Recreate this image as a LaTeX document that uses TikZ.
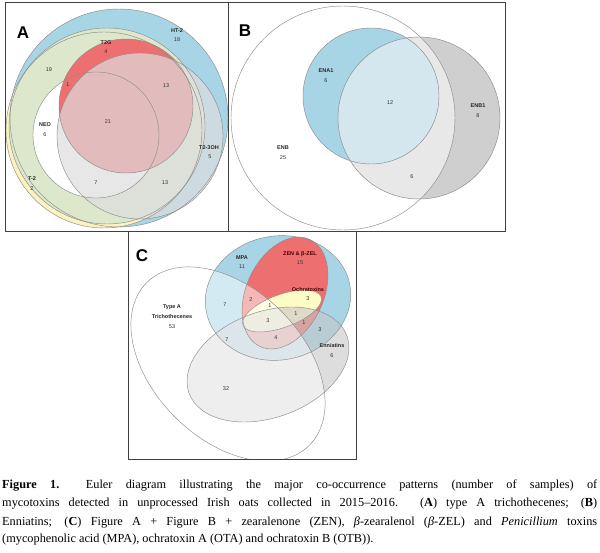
\documentclass[tikz,border=0pt]{standalone}
\usepackage{fontspec}
\setmainfont{Liberation Serif}
\newfontfamily\lsans{Liberation Sans}
\begin{document}
\begin{tikzpicture}[x=1pt,y=-1pt,
  lab/.style={font=\lsans\bfseries\fontsize{5.5}{6}\selectfont,text=black!85,inner sep=0pt},
  num/.style={font=\lsans\fontsize{5.5}{6}\selectfont,text=black!80,inner sep=0pt},
  big/.style={font=\lsans\bfseries\fontsize{17}{18}\selectfont,inner sep=0pt},
  edge/.style={draw=black!45,line width=0.45pt},
  frame/.style={draw=black!75,line width=1pt},
  captxt/.style={font=\fontsize{12.3}{14}\selectfont,anchor=west,inner sep=0pt}]
\definecolor{cblue}{HTML}{A8D5E5}
\definecolor{cyel}{HTML}{FBF3BE}
\definecolor{cgreen}{HTML}{DCE7CB}
\definecolor{cgrey}{HTML}{DEDEDE}
\definecolor{cred}{HTML}{EE6F6F}
\definecolor{cpale}{HTML}{D4E6EE}
\definecolor{cyel2}{HTML}{FFFBC6}
\useasboundingbox (0,0) rectangle (600,553);
\fill[white] (0,0) rectangle (600,553);
% ---------- Panel A
\begin{scope}
\clip (5,3) rectangle (228,232);
\fill[cblue] (119,118) circle (109);
\fill[cyel] (104,130) circle (98);
\fill[cgreen] (107,126) circle (98);
\fill[white] (96,135) circle (63);
\fill[cred] (126,106) circle (67);
\fill[cgrey,fill opacity=0.7] (140,136) circle (83);
\draw[edge] (119,118) circle (109);
\draw[edge] (104,130) circle (98);
\draw[edge] (107,126) circle (98);
\draw[edge] (96,135) circle (63);
\draw[edge] (126,106) circle (67);
\draw[edge] (140,136) circle (83);
\end{scope}
\draw[frame] (5,3) rectangle (228,232);
\node[big] (lA) at (23,33) {A};
\node[lab] (ht2) at (177,31) {HT-2}; \node[num] (ht2n) at (177,40) {18};
\node[lab] (t2g) at (106,43) {T2G}; \node[num] (t2gn) at (106,52) {4};
\node[num] (a19) at (49,70) {19};
\node[num] (a1) at (68,85) {1};
\node[num] (a13a) at (166,86) {13};
\node[lab] (neo) at (45,125) {NEO}; \node[num] (neon) at (45,135) {6};
\node[num] (a21) at (108,122) {21};
\node[lab] (t23) at (209,148) {T2-3OH}; \node[num] (t23n) at (210,157) {5};
\node[lab] (t2) at (32,179) {T-2}; \node[num] (t2n) at (32,189) {2};
\node[num] (a7) at (96,183) {7};
\node[num] (a13b) at (165,183) {13};
% ---------- Panel B
\begin{scope}
\clip (228,3) rectangle (505,232);
\fill[white] (343,118) circle (112);
\fill[black!19] (419,118) circle (81);
\begin{scope}
\clip (343,118) circle (112);
\fill[black!9] (419,118) circle (81);
\end{scope}
\fill[cblue] (371,96) circle (68);
\begin{scope}
\clip (419,118) circle (81);
\fill[cpale] (371,96) circle (68);
\end{scope}
\draw[edge] (343,118) circle (112);
\draw[edge] (371,96) circle (68);
\draw[edge] (419,118) circle (81);
\end{scope}
\draw[frame] (228,3) rectangle (505,232);
\node[big] (lB) at (245,31) {B};
\node[lab] (ena1) at (326,71) {ENA1}; \node[num] (ena1n) at (326,81) {6};
\node[num] (b12) at (390,103) {12};
\node[lab] (enb) at (283,148) {ENB}; \node[num] (enbn) at (283,158) {25};
\node[lab] (enb1) at (478,106) {ENB1}; \node[num] (enb1n) at (478,116) {8};
\node[num] (b6) at (412,177) {6};
% ---------- Panel C
\begin{scope}
\clip (128,232) rectangle (356,459);
\fill[white] (128,232) rectangle (356,459);
\fill[cblue,rotate around={10:(278,298)}] (278,298) ellipse [x radius=73,y radius=62];
\fill[cred,rotate around={65:(285,293)}] (285,293) ellipse [x radius=59,y radius=38.6];
\fill[cyel2,rotate around={20:(282,311)}] (282,311) ellipse [x radius=41.6,y radius=16.4];
\fill[black!22,fill opacity=0.6,rotate around={20:(268,364.5)}] (268,364.5) ellipse [x radius=84,y radius=53];
\fill[white,fill opacity=0.5,rotate around={-45:(228,364)}] (228,364) ellipse [x radius=115,y radius=75];
\draw[edge,rotate around={10:(278,298)}] (278,298) ellipse [x radius=73,y radius=62];
\draw[edge,rotate around={65:(285,293)}] (285,293) ellipse [x radius=59,y radius=38.6];
\draw[edge,rotate around={20:(282,311)}] (282,311) ellipse [x radius=41.6,y radius=16.4];
\draw[edge,rotate around={20:(268,364.5)}] (268,364.5) ellipse [x radius=84,y radius=53];
\draw[edge,rotate around={-45:(228,364)}] (228,364) ellipse [x radius=115,y radius=75];
\end{scope}
\draw[frame] (128,232) rectangle (356,459);
\node[big] (lC) at (142,256) {C};
\node[lab] (mpa) at (242,258) {MPA}; \node[num] (mpan) at (242,267) {11};
\node[lab,text=black!70!red] (zen) at (300,254) {ZEN \& β-ZEL}; \node[num] (zenn) at (300,263) {15};
\node[lab,text=black!70!red] (och) at (308,290) {Ochratoxins}; \node[num] (ochn) at (308,299) {3};
\node[lab] (ta1) at (172,307) {Type A}; \node[lab] (ta2) at (172,317) {Trichothecenes}; \node[num] (tan) at (172,327) {53};
\node[num] (c7a) at (225,305) {7};
\node[num] (c2) at (251,300) {2};
\node[num] (c1a) at (270,306) {1};
\node[num] (c1b) at (296,314) {1};
\node[num] (c3a) at (268,321) {3};
\node[num] (c1c) at (304,323) {1};
\node[num] (c3b) at (320,330) {3};
\node[num] (c7b) at (227,340) {7};
\node[num] (c4) at (276,338) {4};
\node[lab] (enn) at (332,346) {Enniatins}; \node[num] (ennn) at (332,356) {6};
\node[num] (c32) at (226,389) {32};
% ---------- Caption
\node[captxt] (cap1) at (2,486) {\makebox[595pt][s]{\textbf{Figure 1.}\ \ Euler diagram illustrating the major co-occurrence patterns (number of samples) of}};
\node[captxt] (cap2) at (2,504) {\makebox[595pt][s]{mycotoxins detected in unprocessed Irish oats collected in 2015–2016. (\textbf{A}) type A trichothecenes; (\textbf{B})}};
\node[captxt] (cap3) at (2,522) {\makebox[595pt][s]{Enniatins; (\textbf{C}) Figure A + Figure B + zearalenone (ZEN), \textit{β}-zearalenol (\textit{β}-ZEL) and \textit{Penicillium} toxins}};
\node[captxt] (cap4) at (2,540) {(mycophenolic acid (MPA), ochratoxin A (OTA) and ochratoxin B (OTB)).};
\end{tikzpicture}
\end{document}
